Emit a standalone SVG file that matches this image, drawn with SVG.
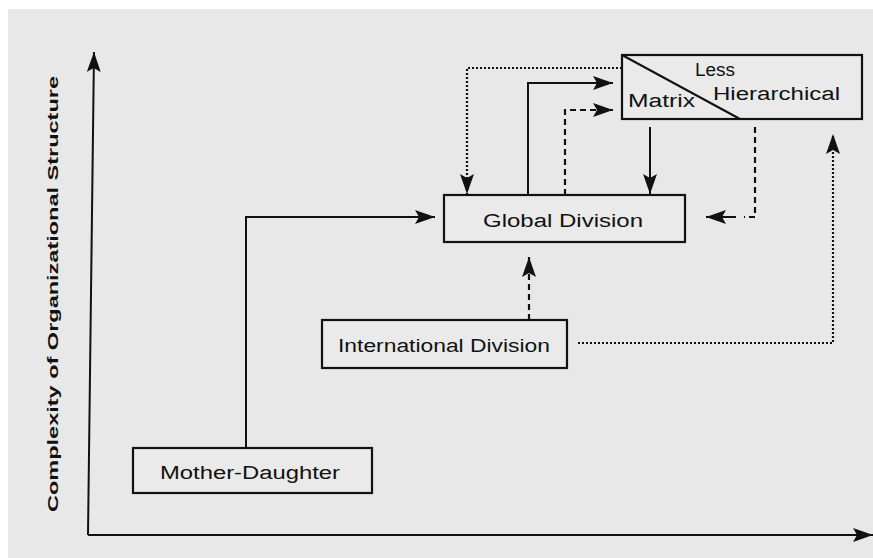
<svg xmlns="http://www.w3.org/2000/svg" width="873" height="558" viewBox="0 0 873 558">
  <defs>
    <marker id="head" viewBox="0 0 20 14" refX="20" refY="7" markerWidth="20" markerHeight="14" markerUnits="userSpaceOnUse" orient="auto">
      <path d="M0,0 L20,7 L0,14 L4,7 Z" fill="#111"/>
    </marker>
    <style>
      .box { fill: #eaeaea; stroke: #111; stroke-width: 2.2; }
      .lbl { font-family: "Liberation Sans", Arial, sans-serif; font-size: 18px; fill: #111; }
      .ax { font-family: "Liberation Sans", Arial, sans-serif; font-size: 15px; font-weight: bold; fill: #111; }
      .solid { fill: none; stroke: #111; stroke-width: 2; }
      .dash { fill: none; stroke: #111; stroke-width: 2.2; stroke-dasharray: 6 4; }
      .dot { fill: none; stroke: #111; stroke-width: 2.2; stroke-dasharray: 2 2; }
    </style>
  </defs>

  <!-- page -->
  <rect x="0" y="0" width="873" height="558" fill="#ffffff"/>
  <rect x="8" y="9" width="865" height="549" fill="#e8e8e8"/>

  <!-- axes -->
  <g id="axes">
    <line x1="88" y1="535" x2="94" y2="52" class="solid" marker-end="url(#head)"/>
    <line x1="88" y1="535" x2="873" y2="535" class="solid" marker-end="url(#head)"/>
    <text class="ax" transform="translate(58,294) rotate(-90)" text-anchor="middle" textLength="436" lengthAdjust="spacingAndGlyphs">Complexity of Organizational Structure</text>
  </g>

  <!-- connectors -->
  <g id="connectors">
    <!-- Mother-Daughter to Global Division -->
    <path d="M246,448 V217 H435" class="solid" marker-end="url(#head)"/>
    <!-- International Division to Global Division -->
    <path d="M529,320 V257" class="dash" marker-end="url(#head)"/>
    <!-- International Division to Matrix -->
    <path d="M578,343 H833 V134" class="dot" marker-end="url(#head)"/>
    <!-- Matrix to Global Division (dotted, left) -->
    <path d="M622,68 H467 V194" class="dot" marker-end="url(#head)"/>
    <!-- Global Division to Matrix (solid) -->
    <path d="M528,195 V83 H613" class="solid" marker-end="url(#head)"/>
    <!-- Global Division to Matrix (dashed) -->
    <path d="M565,195 V110 H613" class="dash" marker-end="url(#head)"/>
    <!-- Matrix to Global Division (solid, down) -->
    <path d="M650,127 V194" class="solid" stroke-width="2.6" marker-end="url(#head)"/>
    <!-- Matrix to Global Division (dashed, right) -->
    <path d="M755,127 V217 H744" class="dash"/>
    <path d="M736,217 H706" class="solid" marker-end="url(#head)"/>
  </g>

  <!-- nodes -->
  <g id="mother-daughter">
    <rect x="133" y="448" width="239" height="45" class="box"/>
    <text x="160" y="479" class="lbl" textLength="180" lengthAdjust="spacingAndGlyphs">Mother-Daughter</text>
  </g>

  <g id="international-division">
    <rect x="322" y="320" width="245" height="48" class="box"/>
    <text x="338" y="352" class="lbl" textLength="212" lengthAdjust="spacingAndGlyphs">International Division</text>
  </g>

  <g id="global-division">
    <rect x="444" y="195" width="241" height="47" class="box"/>
    <text x="483" y="227" class="lbl" textLength="160" lengthAdjust="spacingAndGlyphs">Global Division</text>
  </g>

  <g id="matrix">
    <rect x="622" y="55" width="240" height="64" class="box"/>
    <line x1="622" y1="55" x2="740" y2="119" stroke="#111" stroke-width="2"/>
    <text x="628" y="107" class="lbl" textLength="67" lengthAdjust="spacingAndGlyphs">Matrix</text>
    <text x="695" y="76" class="lbl" textLength="40" lengthAdjust="spacingAndGlyphs">Less</text>
    <text x="713" y="100" class="lbl" textLength="127" lengthAdjust="spacingAndGlyphs">Hierarchical</text>
  </g>
</svg>
